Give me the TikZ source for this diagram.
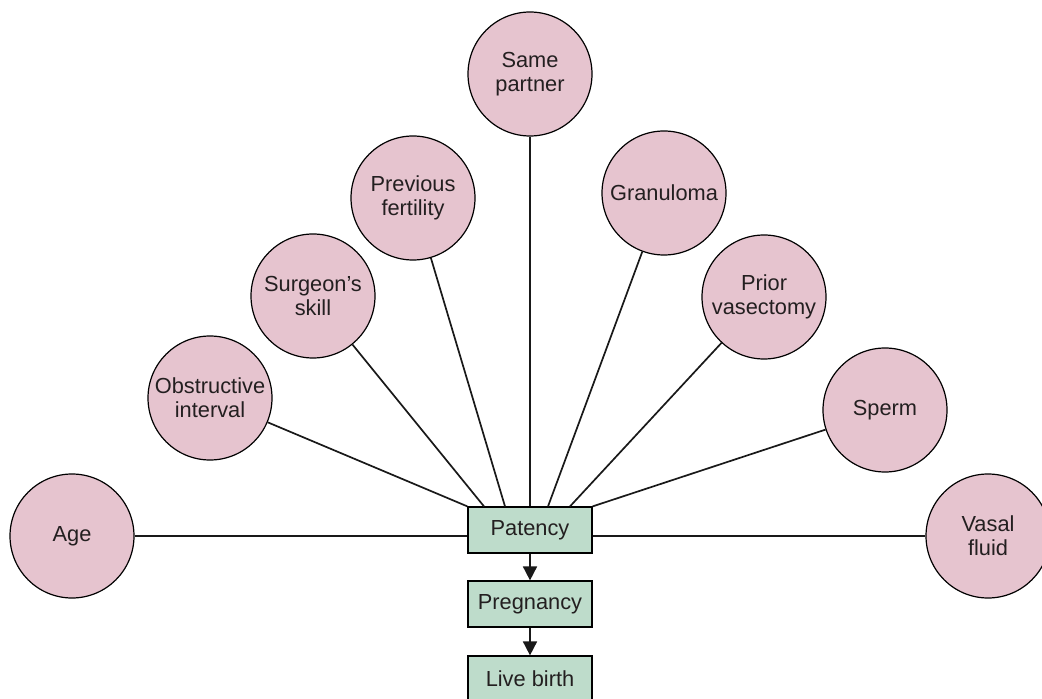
\documentclass[tikz,border=0pt]{standalone}
\usepackage{fontspec}
\setmainfont{Liberation Sans}
\usetikzlibrary{arrows.meta, positioning, calc}

\definecolor{factorpink}{HTML}{E6C4CF}
\definecolor{outcomegreen}{HTML}{BEDCCB}
\definecolor{inktext}{HTML}{231F20}

\begin{document}
\begin{tikzpicture}[
    x=0.5pt, y=-0.5pt,
    >=Stealth,
    font=\fontsize{10.9}{12}\selectfont,
    factor/.style={draw, circle, line width=0.6pt, fill=factorpink,
                   minimum size=62pt, inner sep=0pt, align=center,
                   text=inktext},
    outcome/.style={draw, rectangle, line width=0.6pt, fill=outcomegreen,
                    minimum width=62pt, minimum height=23pt,
                    inner sep=0pt, text=inktext},
    spoke/.style={line width=0.85pt, black!90},
    flowarrow/.style={-{Triangle[length=7pt, width=7pt]}, line width=0.85pt, black!90},
]
\useasboundingbox (0,0) rectangle (1042,699);

% ============================================================
% OUTCOMES (vertical chain)
% ============================================================
\node[outcome] (pat) at (530, 530) {Patency};
\node[outcome] (preg) at (530, 604) {Pregnancy};
\node[outcome] (birth) at (530, 679) {Live birth};

% ============================================================
% FACTORS (fan of circles, explicit coordinates)
% ============================================================
\node[factor] (age)   at (72, 536)   {Age};
\node[factor] (obst)  at (210, 398)  {Obstructive\\interval};
\node[factor] (skill) at (313, 296)  {Surgeon’s\\skill};
\node[factor] (fert)  at (413, 198)  {Previous\\fertility};
\node[factor] (same)  at (530, 74)   {Same\\partner};
\node[factor] (gran)  at (664, 193)  {Granuloma};
\node[factor] (prior) at (764, 297)  {Prior\\vasectomy};
\node[factor] (sperm) at (885, 410)  {Sperm};
\node[factor] (vasal) at (988, 536)  {Vasal\\fluid};

% ============================================================
% Spokes into Patency
% ============================================================
\draw[spoke] (age) -- (age -| pat.west);
\draw[spoke] (obst) -- (pat.north west);
\draw[spoke] (skill) -- ([xshift=-23pt]pat.north);
\draw[spoke] (fert) -- ([xshift=-12.5pt]pat.north);
\draw[spoke] (same) -- (pat.north);
\draw[spoke] (gran) -- ([xshift=9pt]pat.north);
\draw[spoke] (prior) -- ([xshift=20pt]pat.north);
\draw[spoke] (sperm) -- (pat.north east);
\draw[spoke] (vasal) -- (vasal -| pat.east);

% ============================================================
% Main flow arrows (downward)
% ============================================================
\draw[flowarrow] (pat) -- (preg);
\draw[flowarrow] (preg) -- (birth);

\end{tikzpicture}
\end{document}
